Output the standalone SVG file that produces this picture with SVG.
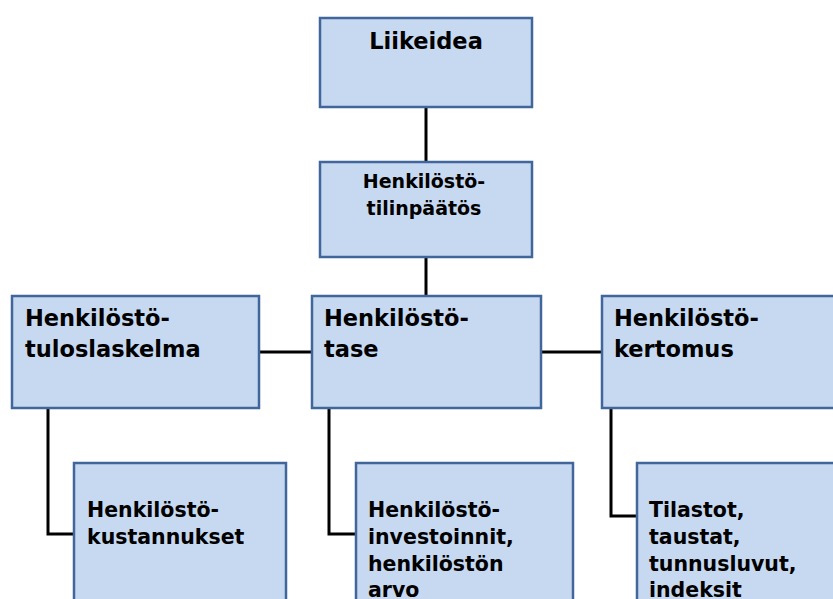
<svg xmlns="http://www.w3.org/2000/svg" width="833" height="599" viewBox="0 0 833 599">
<style>
.box{fill:#C6D9F1;stroke:#41669A;stroke-width:2.5}
.t{font-family:"DejaVu Sans",Verdana,sans-serif;font-weight:bold;fill:#000}
.conn{fill:none;stroke:#000;stroke-width:3}
</style>
<rect width="833" height="599" fill="#fff"/>
<g id="connectors" class="conn">
<line x1="426" y1="107" x2="426" y2="162"/>
<line x1="426" y1="257" x2="426" y2="296"/>
<line x1="259" y1="352" x2="312" y2="352"/>
<line x1="541" y1="352" x2="602" y2="352"/>
<polyline points="48,408 48,534 74,534"/>
<polyline points="329,408 329,534 356,534"/>
<polyline points="611,408 611,516 637,516"/>
</g>
<g id="liikeidea">
<rect class="box" x="320" y="18" width="212" height="89"/>
<text class="t" x="426" y="49" font-size="22.5" text-anchor="middle">Liikeidea</text>
</g>
<g id="tilinpaatos">
<rect class="box" x="320" y="162" width="212" height="95"/>
<text class="t" x="424" y="188" font-size="19" text-anchor="middle">Henkilöstö-</text>
<text class="t" x="424" y="215" font-size="19" text-anchor="middle">tilinpäätös</text>
</g>
<g id="tuloslaskelma">
<rect class="box" x="12" y="296" width="247" height="112"/>
<text class="t" x="25" y="326" font-size="22.5">Henkilöstö-</text>
<text class="t" x="25" y="357" font-size="22.5">tuloslaskelma</text>
</g>
<g id="tase">
<rect class="box" x="312" y="296" width="229" height="112"/>
<text class="t" x="324" y="326" font-size="22.5">Henkilöstö-</text>
<text class="t" x="324" y="357" font-size="22.5">tase</text>
</g>
<g id="kertomus">
<rect class="box" x="602" y="296" width="250" height="112"/>
<text class="t" x="614" y="326" font-size="22.5">Henkilöstö-</text>
<text class="t" x="614" y="357" font-size="22.5">kertomus</text>
</g>
<g id="kustannukset">
<rect class="box" x="74" y="463" width="212" height="160"/>
<text class="t" x="87" y="517" font-size="20.5">Henkilöstö-</text>
<text class="t" x="87" y="544" font-size="20.5">kustannukset</text>
</g>
<g id="investoinnit">
<rect class="box" x="356" y="463" width="217" height="160"/>
<text class="t" x="368" y="517" font-size="20.5">Henkilöstö-</text>
<text class="t" x="368" y="544" font-size="20.5">investoinnit,</text>
<text class="t" x="368" y="571" font-size="20.5">henkilöstön</text>
<text class="t" x="368" y="597" font-size="20.5">arvo</text>
</g>
<g id="tilastot">
<rect class="box" x="637" y="463" width="220" height="160"/>
<text class="t" x="649" y="517" font-size="20.5">Tilastot,</text>
<text class="t" x="649" y="544" font-size="20.5">taustat,</text>
<text class="t" x="649" y="571" font-size="20.5">tunnusluvut,</text>
<text class="t" x="649" y="597" font-size="20.5">indeksit</text>
</g>
</svg>
